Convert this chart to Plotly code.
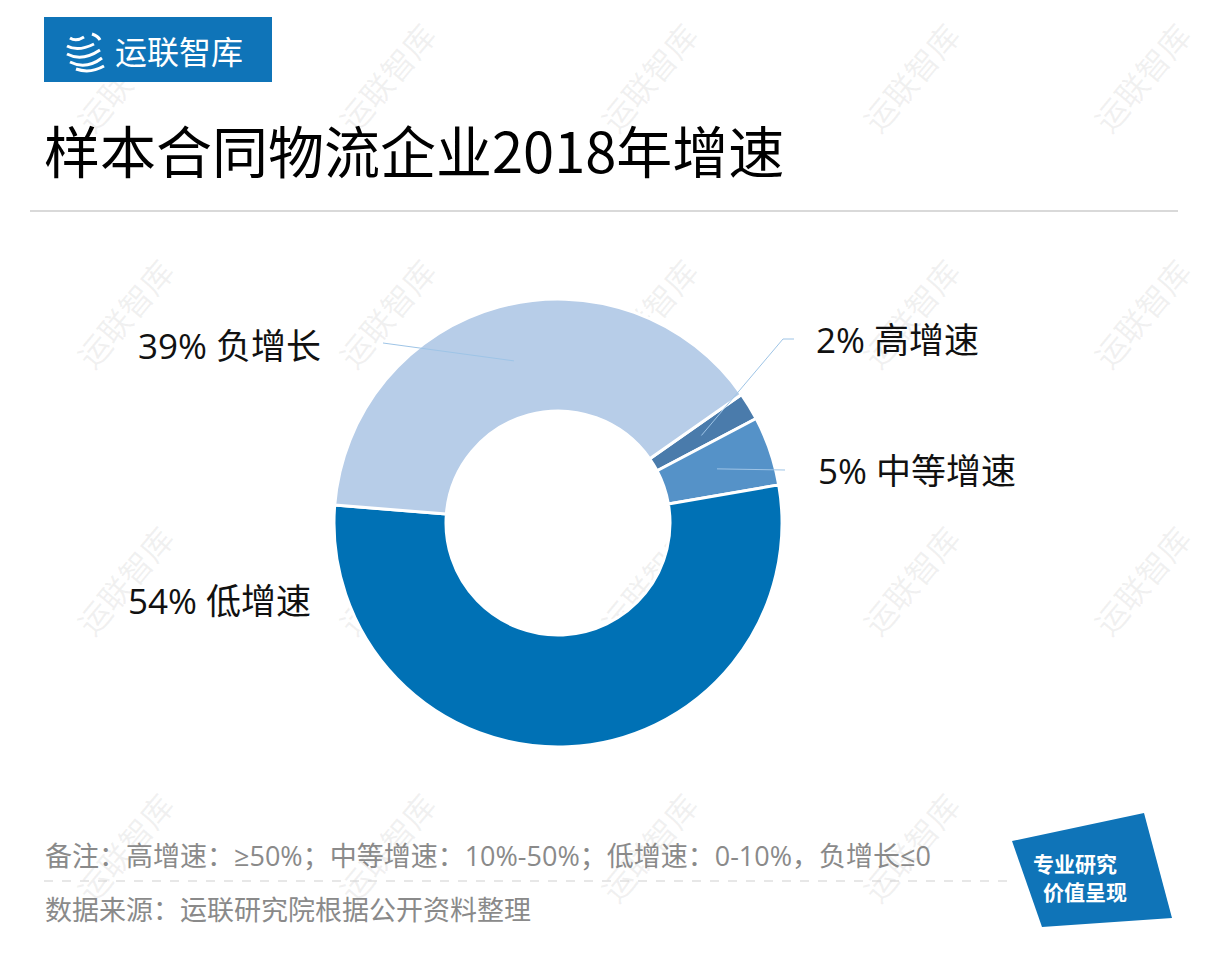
import math
import plotly.graph_objects as go

OFF = 8  # page body margin offset
W, H = 1211 - OFF, 953 - OFF

# ---- data ----
categories = ["高增速", "中等增速", "低增速", "负增长"]
values = [2, 5, 54, 39]
slice_colors = ["#4a7bab", "#5592c8", "#0071b5", "#b7cde8"]
title_text = "样本合同物流企业2018年增速"
note_text = "备注：高增速：≥50%；中等增速：10%-50%；低增速：0-10%，负增长≤0"
source_text = "数据来源：运联研究院根据公开资料整理"
brand_text = "运联智库"
badge_lines = ["专业研究", "价值呈现"]

# ---- geometry helpers (page pixels -> paper) ----
def px(x):
    return (x - OFF) / W

def py(y):
    return 1 - (y - OFF) / H

CX, CY, R = 558, 523, 224
ROTATION = 55
HOLE = 0.5

fig = go.Figure()
fig.add_trace(go.Pie(
    labels=categories,
    values=values,
    sort=False,
    direction="clockwise",
    rotation=ROTATION,
    hole=HOLE,
    textinfo="none",
    hoverinfo="label+percent",
    marker=dict(colors=slice_colors, line=dict(color="white", width=3)),
    domain=dict(x=[px(CX - R), px(CX + R)], y=[py(CY + R), py(CY - R)]),
    showlegend=False,
))

# mid-angle points of each slice (derived from the data)
total = sum(values)
mid_pts = []
acc = 0
for v in values:
    mid = acc + v / 2
    ang = math.radians(ROTATION + 360 * mid / total)  # clockwise from 12 o'clock
    r = 0.75 * R
    mid_pts.append((CX + r * math.sin(ang), CY - r * math.cos(ang)))
    acc += v

shapes = []
annotations = []

# watermarks (below the chart)
wm_rows = [80, 316, 583, 850]
wm_cols = [128, 390, 652, 914, 1145]
for wy in wm_rows:
    for wx in wm_cols:
        if wy == 850 and wx == 1145:
            continue  # hidden behind the badge
        shapes.append(dict(
            type="rect", xref="paper", yref="paper", layer="below",
            x0=px(wx - 60), x1=px(wx + 60), y0=py(wy + 60), y1=py(wy - 60),
            line=dict(width=0), fillcolor="rgba(0,0,0,0)",
            label=dict(text=brand_text, textangle=-50, textposition="middle center",
                       font=dict(family="Noto Sans CJK SC", size=32, color="rgba(140,140,140,0.12)")),
        ))

# logo box
shapes.append(dict(type="rect", xref="paper", yref="paper",
                   x0=px(44), x1=px(272), y0=py(82), y1=py(17),
                   fillcolor="#0f74b8", line=dict(width=0)))
# simple logo icon strokes (globe with streaks)
icon_curves = [
    (70, 38, 76, 42, 84, 37),
    (67, 46, 78, 52, 94, 44),
    (67, 54, 82, 62, 100, 50),
    (70, 62, 86, 70, 102, 58),
    (76, 69, 90, 74, 104, 66),
    (92, 34, 98, 36, 100, 40),
]
for x0, y0, x1, y1, x2, y2 in icon_curves:
    path = "M {},{} Q {},{} {},{}".format(px(x0), py(y0), px(x1), py(y1), px(x2), py(y2))
    shapes.append(dict(type="path", xref="paper", yref="paper", path=path,
                       line=dict(color="white", width=3)))
annotations.append(dict(x=px(113), y=py(50), xref="paper", yref="paper", text=brand_text,
                        showarrow=False, xanchor="left", yanchor="middle",
                        font=dict(family="Noto Sans CJK SC", size=32, color="white")))

# title
annotations.append(dict(x=px(42), y=py(148), xref="paper", yref="paper", text=title_text,
                        showarrow=False, xanchor="left", yanchor="middle",
                        font=dict(family="Noto Sans CJK SC", size=56, color="#000000")))
# separator
shapes.append(dict(type="line", xref="paper", yref="paper",
                   x0=px(30), x1=px(1178), y0=py(211), y1=py(211),
                   line=dict(color="#cccccc", width=1.5)))

# slice labels
label_font = dict(family="Open Sans, Noto Sans CJK SC", size=35, color="#111111")
label_pos = [(814, 340), (816, 470), (126, 600), (136, 345)]
for i, (lx, ly) in enumerate(label_pos):
    annotations.append(dict(x=px(lx), y=py(ly), xref="paper", yref="paper",
                            text="{}% {}".format(values[i], categories[i]),
                            showarrow=False, xanchor="left", yanchor="middle",
                            font=label_font))

# leader lines
lc = dict(color="#9ec4e6", width=1)
p0 = mid_pts[0]
shapes.append(dict(type="path", xref="paper", yref="paper",
                   path="M {},{} L {},{} L {},{}".format(px(p0[0]), py(p0[1]), px(783), py(339), px(794), py(339)),
                   line=lc))
p1 = mid_pts[1]
shapes.append(dict(type="line", xref="paper", yref="paper",
                   x0=px(p1[0]), y0=py(p1[1]), x1=px(785), y1=py(470), line=lc))
p3 = mid_pts[3]
shapes.append(dict(type="line", xref="paper", yref="paper",
                   x0=px(p3[0]), y0=py(p3[1]), x1=px(383), y1=py(343), line=lc))

# footer
foot_font = dict(family="Open Sans, Noto Sans CJK SC", size=27, color="#8a8a8a")
annotations.append(dict(x=px(43), y=py(855), xref="paper", yref="paper", text=note_text,
                        showarrow=False, xanchor="left", yanchor="middle", font=foot_font))
shapes.append(dict(type="line", xref="paper", yref="paper",
                   x0=px(44), x1=px(1015), y0=py(881), y1=py(881),
                   line=dict(color="#cfcfcf", width=1.2, dash="dash")))
annotations.append(dict(x=px(43), y=py(909), xref="paper", yref="paper", text=source_text,
                        showarrow=False, xanchor="left", yanchor="middle", font=foot_font))

# badge
badge = "M {},{} L {},{} L {},{} L {},{} Z".format(
    px(1012), py(841), px(1144), py(813), px(1172), py(918), px(1042), py(927))
shapes.append(dict(type="path", xref="paper", yref="paper", path=badge,
                   fillcolor="#0f74b8", line=dict(width=0)))
badge_font = dict(family="Noto Sans CJK SC", size=21, color="white", weight="bold")
annotations.append(dict(x=px(1032), y=py(863), xref="paper", yref="paper", text=badge_lines[0],
                        showarrow=False, xanchor="left", yanchor="middle", borderpad=0,
                        font=badge_font))
annotations.append(dict(x=px(1042), y=py(891), xref="paper", yref="paper", text=badge_lines[1],
                        showarrow=False, xanchor="left", yanchor="middle", borderpad=0,
                        font=badge_font))

fig.update_layout(
    width=W, height=H, autosize=False,
    margin=dict(l=0, r=0, t=0, b=0),
    paper_bgcolor="white", plot_bgcolor="white",
    shapes=shapes, annotations=annotations,
)

fig.write_html("out.html")
